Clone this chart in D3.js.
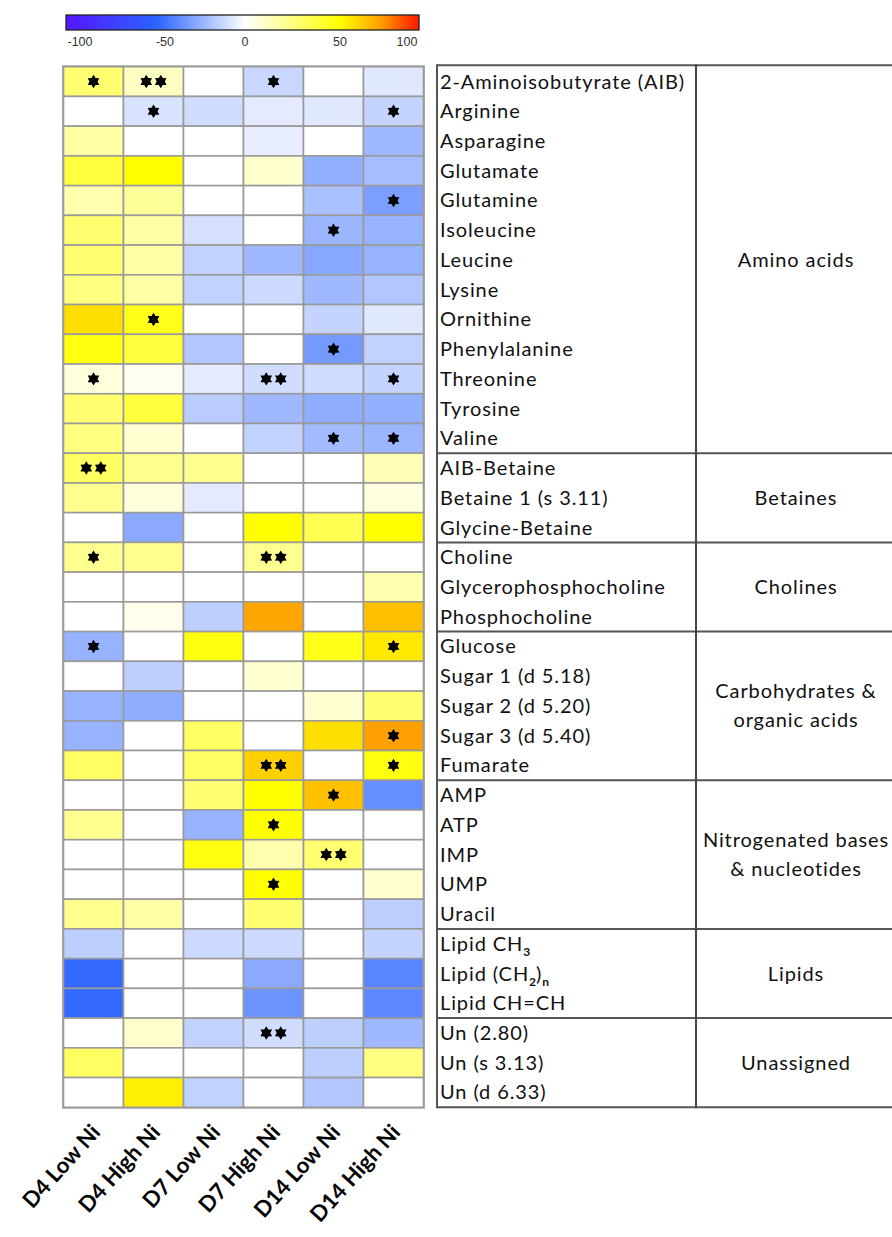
<!DOCTYPE html>
<html><head><meta charset="utf-8">
<script src="https://cdn.jsdelivr.net/npm/d3@7"></script>
<style>body{margin:0;background:#fff}svg{display:block}</style>
</head><body>
<script>
const columns = ["D4 Low Ni","D4 High Ni","D7 Low Ni","D7 High Ni","D14 Low Ni","D14 High Ni"];
const metabolites = ["2-Aminoisobutyrate (AIB)","Arginine","Asparagine","Glutamate","Glutamine","Isoleucine","Leucine","Lysine","Ornithine","Phenylalanine","Threonine","Tyrosine","Valine",
 "AIB-Betaine","Betaine 1 (s 3.11)","Glycine-Betaine",
 "Choline","Glycerophosphocholine","Phosphocholine",
 "Glucose","Sugar 1 (d 5.18)","Sugar 2 (d 5.20)","Sugar 3 (d 5.40)","Fumarate",
 "AMP","ATP","IMP","UMP","Uracil",
 "Lipid CH|3","Lipid (CH|2|)|n","Lipid CH=CH",
 "Un (2.80)","Un (s 3.13)","Un (d 6.33)"];
const groupNames = [["Amino acids"],["Betaines"],["Cholines"],["Carbohydrates &","organic acids"],["Nitrogenated bases","& nucleotides"],["Lipids"],["Unassigned"]];
const groupSizes = [13,3,3,5,5,3,3];

const d4Low  = [28,0,18,38,16,28,28,25,60,47,7,28,25,31,22,0,22,0,0,-27,0,-27,-27,31,0,22,0,0,22,-17,-53,-53,0,31,0];
const d4High = [12,-10,0,50,20,18,17,18,45,38,3,38,9,22,7,-30,22,0,4,0,-17,-29,0,0,0,0,0,0,17,0,0,0,10,0,55];
const d7Low  = [0,-12,0,0,0,-11,-16,-16,0,-20,-7,-18,0,22,-7,0,0,0,-17,47,0,0,31,31,28,-27,47,0,0,-13,0,0,-16,0,-16];
const d7High = [-14,-7,-6,10,0,0,-25,-13,0,0,-12,-25,-16,0,0,50,22,0,78,0,9,0,0,65,50,50,16,50,28,-13,-30,-38,-12,0,0];
const d14Low = [0,-8,0,-28,-22,-26,-31,-25,-15,-36,-12,-29,-24,0,0,34,0,0,0,45,0,9,60,0,70,0,28,0,0,0,0,0,-17,-17,-20];
const d14High= [-8,-15,-25,-23,-34,-27,-27,-20,-8,-16,-15,-28,-26,14,6,50,0,16,70,57,0,28,80,47,-40,0,0,9,-17,-15,-43,-42,-25,25,0];

const sigD4Low  = ["*","","","","","","","","","","*","","","**","","","*","","","*","","","","","","","","","","","","","","",""];
const sigD4High = ["**","*","","","","","","","*","","","","","","","","","","","","","","","","","","","","","","","","","",""];
const sigD7Low  = ["","","","","","","","","","","","","","","","","","","","","","","","","","","","","","","","","","",""];
const sigD7High = ["*","","","","","","","","","","**","","","","","","**","","","","","","","**","","*","","*","","","","","**","",""];
const sigD14Low = ["","","","","","*","","","","*","","","*","","","","","","","","","","","","*","","**","","","","","","","",""];
const sigD14High= ["","*","","","*","","","","","","*","","*","","","","","","","*","","","*","*","","","","","","","","","","",""];

const colorbarTicks = [-100,-50,0,50,100];

const series = [d4Low,d4High,d7Low,d7High,d14Low,d14High];
const sigs = [sigD4Low,sigD4High,sigD7Low,sigD7High,sigD14Low,sigD14High];

const W=892,H=1237;
const svg = d3.select("body").append("svg").attr("width",W).attr("height",H);

const color = d3.scaleLinear().domain([-110,-55,0,50,80,110])
  .range(["#5514ff","#2b63ff","#ffffff","#ffff00","#ffa000","#ff1000"]).clamp(true);

// colour bar
const barScale = d3.scaleLinear().domain([-110,-100,-50,0,50,100,108]).range([66,80,165,245,340,407,419]);
const defs = svg.append("defs");
const grad = defs.append("linearGradient").attr("id","cb").attr("x1","0%").attr("x2","100%");
d3.range(-110,109,2).forEach(v=>{
  grad.append("stop").attr("offset",((barScale(v)-66)/(419-66)*100)+"%").attr("stop-color",color(v));
});
svg.append("rect").attr("x",66).attr("y",15).attr("width",353).attr("height",15)
  .attr("fill","url(#cb)").attr("stroke","#222").attr("stroke-width",1.3);
svg.append("g").selectAll("text").data(colorbarTicks).join("text")
  .attr("x",d=>barScale(d)).attr("y",46).attr("text-anchor","middle")
  .attr("font-family","Liberation Sans, Arial, sans-serif").attr("font-size",12.5).attr("fill","#333")
  .text(d=>d);

// heatmap
const x = d3.scaleBand().domain(columns).range([63.5,423.5]);
const y = d3.scaleBand().domain(d3.range(metabolites.length)).range([66.7,1107.3]);

const cells = [];
series.forEach((s,ci)=>s.forEach((v,ri)=>cells.push({c:columns[ci],r:ri,v,sig:sigs[ci][ri]})));

svg.append("rect").attr("x",x.range()[0]).attr("y",y.range()[0]).attr("width",x.range()[1]-x.range()[0])
  .attr("height",y.range()[1]-y.range()[0]).attr("fill","none").attr("stroke","#b0b0b0").attr("stroke-width",3);

svg.append("g").selectAll("rect").data(cells).join("rect")
  .attr("x",d=>x(d.c)).attr("y",d=>y(d.r)).attr("width",x.bandwidth()).attr("height",y.bandwidth())
  .attr("fill",d=>color(d.v)).attr("stroke","#9a9a9a").attr("stroke-width",1.6);

const star6 = {draw(ctx,size){
  const R=Math.sqrt(size)/2, r=R*0.6;
  for(let i=0;i<12;i++){
    const a=i*Math.PI/6-Math.PI/2, rad=i%2?r:R;
    const px=rad*Math.cos(a), py=rad*Math.sin(a);
    if(i===0) ctx.moveTo(px,py); else ctx.lineTo(px,py);
  }
  ctx.closePath();
}};
const starPath = d3.symbol(star6,180)();
const stars=[];
cells.filter(d=>d.sig).forEach(d=>{
  const n=d.sig.length;
  for(let k=0;k<n;k++) stars.push({cx:x(d.c)+x.bandwidth()/2+(k-(n-1)/2)*14.5, cy:y(d.r)+y.bandwidth()/2});
});
svg.append("g").selectAll("path").data(stars).join("path")
  .attr("d",starPath).attr("transform",d=>`translate(${d.cx},${d.cy})`).attr("fill","#000");

// column labels
svg.append("g").selectAll("text").data(columns).join("text")
  .attr("text-anchor","end")
  .attr("transform",d=>`translate(${x(d)+x.bandwidth()/2+8},${1133}) rotate(-48)`)
  .attr("font-family","Lato, sans-serif").attr("font-weight","bold").attr("font-size",22).attr("fill","#000")
  .text(d=>d);

// table
const tbl = svg.append("g");
const tx0=437, tx1=696, tx2=892;
const font="Lato, sans-serif";
const rowLabels = tbl.append("g").selectAll("text").data(metabolites).join("text")
  .attr("x",440).attr("y",(d,i)=>y(i)+y.bandwidth()/2+7)
  .attr("font-family",font).attr("font-size",20).attr("letter-spacing",0.9).attr("fill","#111");
rowLabels.each(function(d){
  const parts=d.split("|");
  const t=d3.select(this);
  parts.forEach((p,k)=>{
    if(k%2===0){ t.append("tspan").attr("dy",k===0?0:-5).text(p); }
    else { t.append("tspan").attr("dy",5).attr("font-size",12).attr("font-weight","bold").attr("letter-spacing",0).text(p); }
  });
});

let start=0;
const bounds=[];
groupSizes.forEach((s,gi)=>{ bounds.push({start, end:start+s, names:groupNames[gi]}); start+=s; });
tbl.append("g").selectAll("line").data([0,...bounds.map(b=>b.end)]).join("line")
  .attr("x1",tx0).attr("x2",tx2).attr("y1",d=>d===0?y.range()[0]-1.5:(d>=metabolites.length?y.range()[1]:y(d)))
  .attr("y2",d=>d===0?y.range()[0]-1.5:(d>=metabolites.length?y.range()[1]:y(d)))
  .attr("stroke","#555").attr("stroke-width",2);
tbl.append("line").attr("x1",tx0).attr("x2",tx0).attr("y1",y.range()[0]-2.5).attr("y2",y.range()[1]+1)
  .attr("stroke","#555").attr("stroke-width",2);
tbl.append("line").attr("x1",tx1).attr("x2",tx1).attr("y1",y.range()[0]-2.5).attr("y2",y.range()[1]+1)
  .attr("stroke","#444").attr("stroke-width",2);
bounds.forEach(b=>{
  const cy=(y(b.start)+ (b.end>=metabolites.length?y.range()[1]:y(b.end)))/2;
  const n=b.names.length;
  tbl.append("g").selectAll("text").data(b.names).join("text")
    .attr("x",796).attr("y",(d,k)=>cy+7+(k-(n-1)/2)*29)
    .attr("text-anchor","middle").attr("font-family",font).attr("font-size",20).attr("letter-spacing",0.9).attr("fill","#111")
    .text(d=>d);
});
</script>
</body></html>
